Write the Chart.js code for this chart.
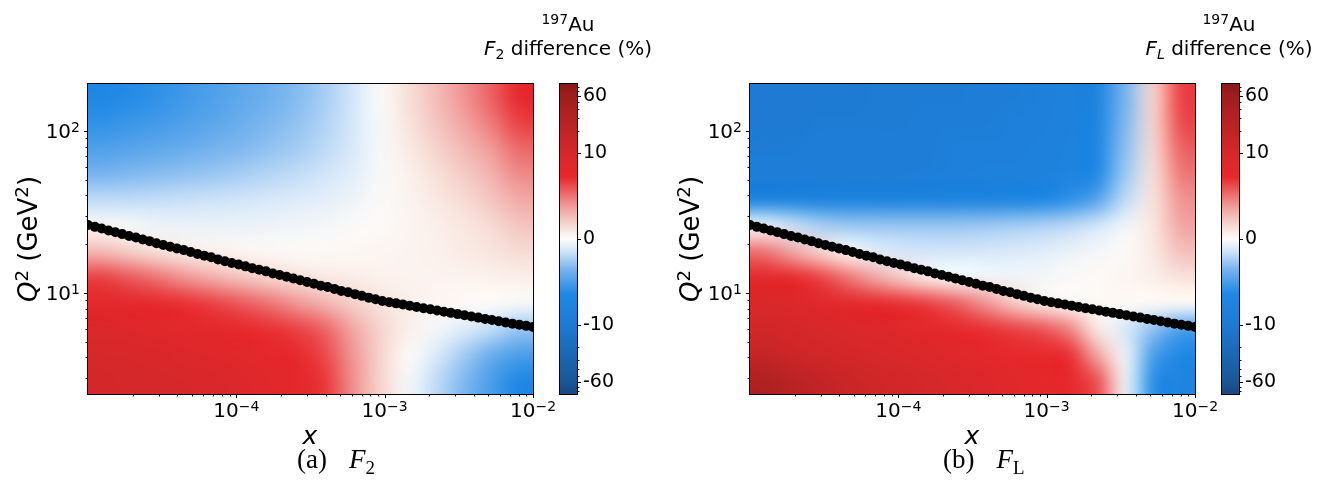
<!DOCTYPE html>
<html>
<head>
<meta charset="utf-8">
<script src="https://cdn.jsdelivr.net/npm/chart.js@4.4.0/dist/chart.umd.min.js"></script>
<style>
  html, body { margin: 0; padding: 0; background: #fff; }
  body { width: 1325px; height: 497px; position: relative; overflow: hidden; font-family: "DejaVu Sans", sans-serif; color: #000; }
  .panel { position: absolute; top: 0; height: 497px; }
  .txt { position: absolute; white-space: nowrap; line-height: 1; }
  .ylab { font-size: 26px; transform: translate(-50%, -50%) rotate(-90deg); }
  .xlab { font-size: 25px; transform: translate(-50%, 0); }
  .ttl { font-size: 20px; line-height: 24px; text-align: center; transform: translate(-50%, 0); }
  .cap { font-family: "Liberation Serif", serif; font-size: 27px; }
  .cap .f { margin-left: 22px; }
  .tick { position: absolute; white-space: nowrap; font-size: 20px; line-height: 20px; }
  .tick sup { font-size: 14px; vertical-align: 0.46em; }
  sup { font-size: 0.7em; line-height: 0; vertical-align: 0.5em; }
  sub { font-size: 0.7em; line-height: 0; vertical-align: -0.25em; }
  .cap sub { font-size: 0.7em; vertical-align: -0.3em; }
</style>
</head>
<body>
<div class="panel" id="panelA" style="left:0; width:662px"><canvas id="chartF2" width="662" height="497"></canvas></div>
<div class="panel" id="panelB" style="left:662px; width:663px"><canvas id="chartFL" width="663" height="497"></canvas></div>

<div class="txt ylab" style="left:28px; top:239px"><i>Q</i><sup>2</sup> (GeV<sup>2</sup>)</div>
<div class="txt xlab" style="left:310px; top:423px"><i>x</i></div>
<div class="txt ttl" style="left:568px; top:12px"><sup>197</sup>Au<br><i>F</i><sub>2</sub> difference (%)</div>
<div class="txt cap" style="left:297px; top:446px">(a)<span class="f"><i>F</i><sub>2</sub></span></div>

<div class="txt ylab" style="left:690px; top:239px"><i>Q</i><sup>2</sup> (GeV<sup>2</sup>)</div>
<div class="txt xlab" style="left:972px; top:423px"><i>x</i></div>
<div class="txt ttl" style="left:1229px; top:12px"><sup>197</sup>Au<br><i>F<sub>L</sub></i> difference (%)</div>
<div class="txt cap" style="left:943px; top:446px">(b)<span class="f"><i>F</i><sub>L</sub></span></div>

<script>
// axis ranges
const xMin = 1e-5, xMax = 1e-2;
const q2Min = 2.38, q2Max = 195;

// ticks
const xMajorTicks = [1e-4, 1e-3, 1e-2];
const xTickExps = ["\u22124", "\u22123", "\u22122"];
const xMinorTicks = [2e-5, 3e-5, 4e-5, 5e-5, 6e-5, 7e-5, 8e-5, 9e-5,
  2e-4, 3e-4, 4e-4, 5e-4, 6e-4, 7e-4, 8e-4, 9e-4,
  2e-3, 3e-3, 4e-3, 5e-3, 6e-3, 7e-3, 8e-3, 9e-3];
const q2MajorTicks = [10, 100];
const q2TickExps = ["1", "2"];
const q2MinorTicks = [3, 4, 5, 6, 7, 8, 9, 20, 30, 40, 50, 60, 70, 80, 90];
const cbTickValues = [-60, -10, 0, 10, 60];
const cbTickLabels = ["-60", "-10", "0", "10", "60"];
const cbMinorTicks = [-80, -70, -50, -40, -30, -20, 20, 30, 40, 50, 70, 80];

// black points (x, Q^2)
const dotX = [1.000e-5, 1.112e-5, 1.236e-5, 1.375e-5, 1.530e-5, 1.701e-5, 1.892e-5, 2.104e-5, 2.340e-5, 2.602e-5,
  2.894e-5, 3.218e-5, 3.579e-5, 3.981e-5, 4.427e-5, 4.923e-5, 5.475e-5, 6.089e-5, 6.771e-5, 7.530e-5,
  8.375e-5, 9.313e-5, 1.036e-4, 1.152e-4, 1.281e-4, 1.425e-4, 1.585e-4, 1.762e-4, 1.960e-4, 2.180e-4,
  2.424e-4, 2.696e-4, 2.998e-4, 3.334e-4, 3.708e-4, 4.124e-4, 4.586e-4, 5.100e-4, 5.672e-4, 6.310e-4,
  7.017e-4, 7.804e-4, 8.679e-4, 9.652e-4, 1.073e-3, 1.194e-3, 1.328e-3, 1.476e-3, 1.642e-3, 1.826e-3,
  2.031e-3, 2.259e-3, 2.512e-3, 2.794e-3, 3.107e-3, 3.455e-3, 3.843e-3, 4.274e-3, 4.753e-3, 5.286e-3,
  5.878e-3, 6.537e-3, 7.270e-3, 8.086e-3, 8.993e-3, 1.000e-2];
const dotQ2 = [26.3, 25.6, 25.0, 24.3, 23.7, 23.1, 22.5, 22.0, 21.4, 20.9,
  20.3, 19.8, 19.3, 18.8, 18.4, 17.9, 17.4, 17.0, 16.6, 16.1,
  15.7, 15.3, 15.0, 14.6, 14.2, 13.9, 13.6, 13.2, 12.9, 12.6,
  12.3, 12.0, 11.7, 11.4, 11.1, 10.9, 10.6, 10.3, 10.1, 9.84,
  9.60, 9.36, 9.14, 8.93, 8.77, 8.63, 8.49, 8.34, 8.20, 8.05,
  7.93, 7.80, 7.66, 7.54, 7.41, 7.28, 7.16, 7.05, 6.92, 6.81,
  6.70, 6.58, 6.47, 6.37, 6.27, 6.17];

// difference (%) on a 16 x 12 grid, rows from high Q^2 (top) to low Q^2 (bottom),
// columns from x = 1e-5 to x = 1e-2
const f2Diff = [
  [-6.5, -6.2, -5.8, -5.3, -4.8, -4.3, -3.8, -3.2, -2.4, -1.4, -0.1, 1.3, 2.6, 4.0, 5.5, 7.5],
  [-5.8, -5.5, -5.2, -4.8, -4.4, -3.9, -3.4, -2.9, -2.2, -1.3, -0.2, 1.1, 2.3, 3.5, 4.8, 6.5],
  [-4.8, -4.6, -4.3, -4.0, -3.6, -3.3, -2.9, -2.5, -1.9, -1.2, -0.2, 0.8, 1.8, 2.8, 3.8, 5.3],
  [-3.5, -3.3, -3.1, -2.9, -2.7, -2.4, -2.1, -1.8, -1.4, -0.9, -0.2, 0.5, 1.3, 2.1, 3.0, 4.3],
  [-1.8, -1.8, -1.7, -1.6, -1.5, -1.4, -1.2, -1.0, -0.8, -0.5, -0.1, 0.4, 0.9, 1.5, 2.3, 3.3],
  [0.3, -0.2, -0.5, -0.6, -0.6, -0.6, -0.5, -0.4, -0.3, -0.1, 0.1, 0.3, 0.6, 1.0, 1.5, 2.3],
  [2.8, 2.0, 1.3, 0.8, 0.5, 0.3, 0.2, 0.1, 0.1, 0.2, 0.3, 0.4, 0.5, 0.8, 1.1, 1.5],
  [6.5, 5.8, 5.0, 4.0, 3.2, 2.4, 1.8, 1.3, 0.9, 0.7, 0.5, 0.4, 0.4, 0.4, 0.5, 0.6],
  [8.0, 7.8, 7.5, 7.0, 6.5, 5.8, 5.0, 4.0, 3.0, 2.0, 1.2, 0.6, 0.3, 0.1, 0.0, -0.2],
  [9.0, 8.8, 8.5, 8.2, 8.0, 7.5, 7.0, 6.5, 5.5, 3.5, 1.8, 0.6, -0.3, -1.0, -1.8, -2.8],
  [10, 9.8, 9.5, 9.0, 8.7, 8.3, 7.8, 7.3, 6.3, 4.0, 1.8, 0.1, -1.1, -2.5, -4.0, -5.0],
  [11, 10.7, 10.3, 10, 9.5, 9.0, 8.5, 7.8, 6.8, 4.2, 1.8, -0.3, -1.8, -3.3, -5.0, -6.5]
];
const flDiff = [
  [-10, -10, -10, -10, -9.5, -9.5, -9.5, -9.5, -9, -9, -8.5, -8.3, -7.5, -3.5, 1.8, 6.5],
  [-10, -10, -9.5, -9.5, -9.5, -9.5, -9, -9, -9, -8.5, -8.5, -8, -7.2, -3.3, 1.8, 6.2],
  [-9.5, -9.5, -9, -9, -9, -9, -9, -8.5, -8.5, -8.5, -8.3, -7.8, -6.8, -3, 1.6, 5.5],
  [-9, -9, -9, -9, -9, -9, -8.8, -8.5, -8.3, -8.2, -8, -7.5, -6.3, -2.6, 1.4, 4.8],
  [-7.5, -7.5, -7.5, -7.5, -7.5, -7.5, -7.5, -7.5, -7.3, -7, -6.5, -5.8, -4.5, -1.8, 1.2, 4.0],
  [-0.5, -1.5, -2.3, -2.6, -2.7, -2.7, -2.7, -2.7, -2.6, -2.4, -2.2, -1.9, -1.3, -0.4, 1.0, 3.5],
  [5, 3.5, 1.8, 0.3, -0.8, -1.2, -1.3, -1.3, -1.2, -1.1, -0.9, -0.6, -0.3, 0.1, 0.9, 2.5],
  [8, 7.5, 6.5, 5, 3.5, 2, 0.6, -0.2, -0.4, -0.4, -0.3, -0.1, 0.1, 0.3, 0.6, 1.2],
  [9.5, 9, 8.5, 8, 7.5, 7, 6.5, 5.5, 4, 2.2, 0.8, 0.3, 0.2, 0.1, 0.1, 0.1],
  [12, 11, 10, 9.5, 9, 8.5, 8, 7.5, 7, 6.5, 6, 4.5, 0.8, -1.2, -3, -5],
  [17, 14, 12, 11, 10, 9.5, 9, 8.5, 8, 7.5, 7.2, 7, 3.5, -0.5, -5, -6.5],
  [35, 25, 19, 15, 13, 11.5, 10.5, 9.5, 9, 8.5, 8, 7.5, 6, -0.5, -6, -7.5]
];

// colour map, in colour-bar units (symlog, linear below 10 %)
const cmapStops = [
  [-155, [24, 72, 128]],
  [-143, [27, 86, 150]],
  [-86, [30, 122, 210]],
  [-55, [30, 136, 229]],
  [-30, [120, 180, 238]],
  [-12, [210, 229, 249]],
  [0, [253, 251, 248]],
  [12, [247, 222, 215]],
  [30, [241, 165, 163]],
  [62, [232, 40, 44]],
  [86, [214, 40, 42]],
  [143, [158, 30, 30]],
  [155, [138, 25, 25]]
];

function symlog(v) {
  const a = Math.abs(v);
  const u = a <= 10 ? 8.6 * a : 86 + 73 * Math.log10(a / 10);
  return Math.sign(v) * u;
}

function colorAt(u) {
  if (u <= cmapStops[0][0]) return cmapStops[0][1];
  for (let i = 1; i < cmapStops.length; i++) {
    const [u1, c1] = cmapStops[i];
    if (u <= u1) {
      const [u0, c0] = cmapStops[i - 1];
      const t = (u - u0) / (u1 - u0);
      return c0.map((c, k) => Math.round(c + (c1[k] - c) * t));
    }
  }
  return cmapStops[cmapStops.length - 1][1];
}

function line(ctx, x1, y1, x2, y2) {
  ctx.beginPath();
  ctx.moveTo(x1, y1);
  ctx.lineTo(x2, y2);
  ctx.stroke();
}

function heatmapPlugin(grid) {
  return {
    id: "heatmap",
    beforeDatasetsDraw(chart) {
      const { ctx, chartArea: a, scales: { x, y } } = chart;
      const rows = grid.length, cols = grid[0].length;
      const off = document.createElement("canvas");
      off.width = cols;
      off.height = rows;
      const octx = off.getContext("2d");
      const img = octx.createImageData(cols, rows);
      grid.forEach((row, r) => row.forEach((v, c) => {
        const col = colorAt(symlog(v));
        const k = (r * cols + c) * 4;
        img.data[k] = col[0];
        img.data[k + 1] = col[1];
        img.data[k + 2] = col[2];
        img.data[k + 3] = 255;
      }));
      octx.putImageData(img, 0, 0);
      const left = x.getPixelForValue(xMin), right = x.getPixelForValue(xMax);
      const top = y.getPixelForValue(q2Max), bottom = y.getPixelForValue(q2Min);
      ctx.save();
      ctx.beginPath();
      ctx.rect(a.left, a.top, a.width, a.height);
      ctx.clip();
      ctx.imageSmoothingEnabled = true;
      ctx.imageSmoothingQuality = "high";
      ctx.drawImage(off, left, top, right - left, bottom - top);
      ctx.restore();
    }
  };
}

// frame, tick marks and colour bar
const framePlugin = {
  id: "frame",
  afterDraw(chart) {
    const { ctx, chartArea: a, scales: { x, y, cb } } = chart;
    ctx.save();
    ctx.strokeStyle = "#000";
    ctx.lineWidth = 1;
    xMajorTicks.forEach(v => { const p = Math.round(x.getPixelForValue(v)) + 0.5; line(ctx, p, a.bottom, p, a.bottom + 4); });
    xMinorTicks.forEach(v => { const p = Math.round(x.getPixelForValue(v)) + 0.5; line(ctx, p, a.bottom, p, a.bottom + 2.5); });
    q2MajorTicks.forEach(v => { const p = Math.round(y.getPixelForValue(v)) + 0.5; line(ctx, a.left, p, a.left - 4, p); });
    q2MinorTicks.forEach(v => { const p = Math.round(y.getPixelForValue(v)) + 0.5; line(ctx, a.left, p, a.left - 2.5, p); });
    ctx.strokeRect(Math.round(a.left) - 0.5, Math.round(a.top) - 0.5, Math.round(a.width) + 1, Math.round(a.height) + 1);

    // colour bar
    const cbL = Math.round(a.right) + 27, cbR = Math.round(a.right) + 44;
    const top = cb.getPixelForValue(155), bottom = cb.getPixelForValue(-155);
    const grad = ctx.createLinearGradient(0, top, 0, bottom);
    cmapStops.forEach(([u, c]) => {
      const t = (cb.getPixelForValue(u) - top) / (bottom - top);
      grad.addColorStop(Math.min(1, Math.max(0, t)), `rgb(${c[0]},${c[1]},${c[2]})`);
    });
    ctx.fillStyle = grad;
    ctx.fillRect(cbL, top, cbR - cbL, bottom - top);
    ctx.strokeRect(cbL - 0.5, Math.round(top) - 0.5, cbR - cbL + 1, Math.round(bottom - top) + 1);
    cbTickValues.forEach(v => { const p = Math.round(cb.getPixelForValue(symlog(v))) + 0.5; line(ctx, cbR, p, cbR + 4, p); });
    cbMinorTicks.forEach(v => { const p = Math.round(cb.getPixelForValue(symlog(v))) + 0.5; line(ctx, cbR, p, cbR + 2.5, p); });
    ctx.restore();
  }
};

const tickFont = { family: "DejaVu Sans", size: 19 };

function makeChart(id, grid, cbWidth) {
  return new Chart(document.getElementById(id), {
    type: "scatter",
    data: {
      datasets: [{
        data: dotX.map((v, i) => ({ x: v, y: dotQ2[i] })),
        backgroundColor: "#000",
        borderWidth: 0,
        pointRadius: 5,
        clip: 0
      }]
    },
    options: {
      responsive: false,
      animation: false,
      events: [],
      layout: { padding: { top: 84, left: 0, right: 0, bottom: 0 } },
      plugins: { legend: { display: false }, tooltip: { enabled: false } },
      scales: {
        x: {
          type: "logarithmic",
          position: "bottom",
          min: xMin,
          max: xMax,
          grid: { display: false, drawTicks: false },
          border: { display: false },
          afterBuildTicks: s => { s.ticks = xMajorTicks.map(v => ({ value: v })); },
          afterFit: s => { s.height = 103; },
          ticks: { display: false }
        },
        y: {
          type: "logarithmic",
          position: "left",
          min: q2Min,
          max: q2Max,
          grid: { display: false, drawTicks: false },
          border: { display: false },
          afterBuildTicks: s => { s.ticks = q2MajorTicks.map(v => ({ value: v })); },
          afterFit: s => { s.width = 88; },
          ticks: { display: false }
        },
        cb: {
          type: "linear",
          position: "right",
          min: -155,
          max: 155,
          grid: { display: false, drawTicks: false },
          border: { display: false },
          afterBuildTicks: s => { s.ticks = cbTickValues.map(v => ({ value: symlog(v) })); },
          afterFit: s => { s.width = cbWidth; },
          ticks: {
            autoSkip: false,
            padding: 50,
            color: "#000",
            font: tickFont,
            callback: (v, i) => cbTickLabels[i]
          }
        }
      }
    },
    plugins: [heatmapPlugin(grid), framePlugin]
  });
}

// log-axis tick labels as "10" with a raised exponent, placed from the chart scales
function addTickLabels(chart, panel) {
  const { x, y } = chart.scales;
  xMajorTicks.forEach((v, i) => {
    const el = document.createElement("div");
    el.className = "tick";
    el.innerHTML = "10<sup>" + xTickExps[i] + "</sup>";
    el.style.left = x.getPixelForValue(v) + "px";
    el.style.top = "400px";
    el.style.transform = "translateX(-50%)";
    panel.appendChild(el);
  });
  q2MajorTicks.forEach((v, i) => {
    const el = document.createElement("div");
    el.className = "tick";
    el.innerHTML = "10<sup>" + q2TickExps[i] + "</sup>";
    el.style.left = "80px";
    el.style.top = (y.getPixelForValue(v) - 10) + "px";
    el.style.transform = "translateX(-100%)";
    panel.appendChild(el);
  });
}

const chartF2 = makeChart("chartF2", f2Diff, 129);
const chartFL = makeChart("chartFL", flDiff, 130);
addTickLabels(chartF2, document.getElementById("panelA"));
addTickLabels(chartFL, document.getElementById("panelB"));
</script>
</body>
</html>
